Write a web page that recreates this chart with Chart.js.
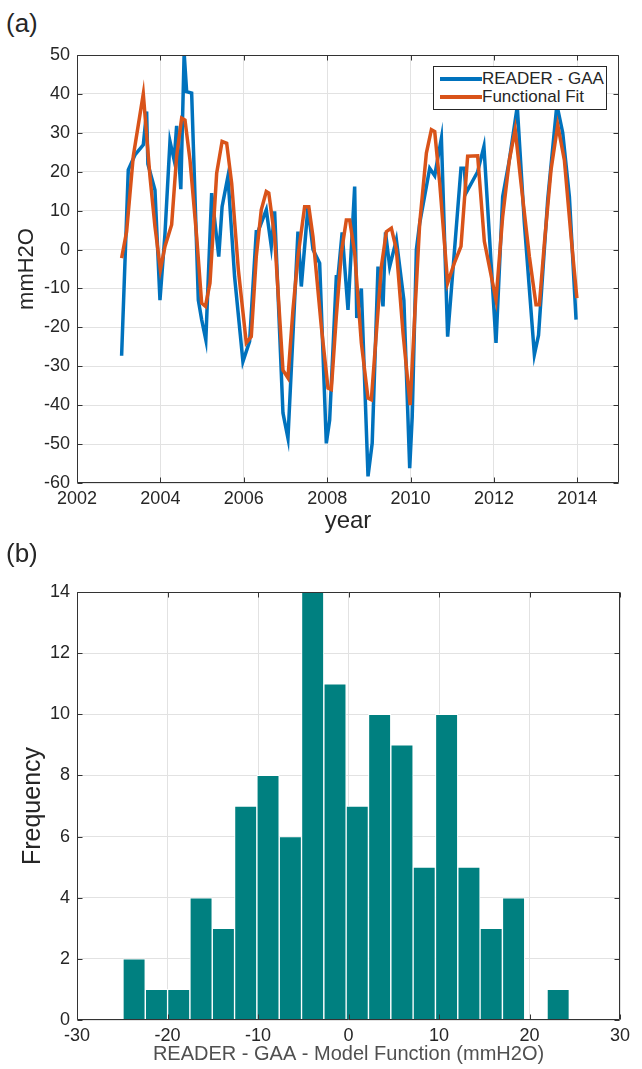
<!DOCTYPE html>
<html>
<head>
<meta charset="utf-8">
<script src="https://cdn.jsdelivr.net/npm/chart.js@4"></script>
<style>
  body { margin: 0; background: #fff; width: 642px; height: 1069px; position: relative; overflow: hidden;
         font-family: "Liberation Sans", Arial, sans-serif; color: #262626; }
  canvas { position: absolute; left: 0; }
  .panel-tag { position: absolute; left: 6px; font-size: 26px; line-height: 30px; }
  .legend { position: absolute; left: 433px; top: 66px; width: 172px; height: 42px; border: 1px solid #262626;
            background: #fff; font-size: 17px; }
  .legend .row { position: absolute; left: 0; height: 18px; line-height: 18px; white-space: nowrap; }
  .legend .swatch { position: absolute; left: 6px; top: 7px; width: 42px; height: 4px; }
  .legend .lbl { position: absolute; left: 48px; top: 0; }
</style>
</head>
<body>
<div class="panel-tag" style="top:8px">(a)</div>
<canvas id="seriesChart" width="642" height="540" style="top:0"></canvas>
<div class="legend">
  <div class="row" style="top:3px"><span class="swatch" style="background:#0072BD"></span><span class="lbl">READER - GAA</span></div>
  <div class="row" style="top:21px"><span class="swatch" style="background:#D95319"></span><span class="lbl">Functional Fit</span></div>
</div>
<div class="panel-tag" style="top:538px">(b)</div>
<canvas id="histChart" width="642" height="529" style="top:540px"></canvas>
<script>
// --- panel (a): READER - GAA vs functional fit ---
const gaaYears = [2003.07, 2003.23, 2003.39, 2003.59, 2003.67, 2003.70, 2003.87, 2003.99, 2004.11, 2004.23,
  2004.33, 2004.39, 2004.49, 2004.57, 2004.63, 2004.75, 2004.91, 2004.99, 2005.09, 2005.23,
  2005.40, 2005.48, 2005.62, 2005.78, 2005.98, 2006.14, 2006.30, 2006.34, 2006.54, 2006.66,
  2006.74, 2006.94, 2007.06, 2007.30, 2007.38, 2007.54, 2007.66, 2007.82, 2007.98, 2008.06,
  2008.22, 2008.26, 2008.36, 2008.50, 2008.66, 2008.71, 2008.82, 2008.98, 2009.08, 2009.22,
  2009.34, 2009.40, 2009.50, 2009.66, 2009.84, 2009.98, 2010.04, 2010.14, 2010.22, 2010.46,
  2010.58, 2010.74, 2010.89, 2011.21, 2011.29, 2011.33, 2011.61, 2011.76, 2012.05, 2012.21,
  2012.37, 2012.56, 2012.73, 2012.97, 2013.07, 2013.29, 2013.51, 2013.65, 2013.81, 2013.97];
const gaaValues = [-27.3, 20.5, 24.3, 26.9, 35.5, 22, 15.3, -13, 4, 27.8,
  23, 31.8, 15.5, 50.5, 40.6, 40.2, -13, -18, -23.2, 14.5,
  -1.8, 11, 18.8, -7, -28.8, -23.6, 4.6, 4.6, 10.2, 0.8,
  9.8, -42, -48.5, 4.6, -9.5, 11, 0, -3.5, -49.8, -43.8,
  -7, -7, 4.4, -15.5, 16.2, -17.6, -10, -58.3, -49.8, -4.4,
  -14.6, 4.4, -4.4, 2.5, -13, -56.2, -43, 0, 6.8, 20.9,
  19, 28.6, -22.4, 20.9, 20.9, 14.5, 20, 26.5, -24, 13.6,
  23, 36.8, 6.8, -27, -22, 12.8, 37.2, 30, 13.6, -18];

const fitYears = [2003.07, 2003.19, 2003.35, 2003.59, 2003.75, 2003.87, 2004.00, 2004.11, 2004.27, 2004.39,
  2004.51, 2004.59, 2004.71, 2004.87, 2004.99, 2005.08, 2005.19, 2005.35, 2005.48, 2005.59,
  2005.71, 2005.87, 2006.06, 2006.18, 2006.30, 2006.42, 2006.54, 2006.60, 2006.74, 2006.94,
  2007.06, 2007.18, 2007.30, 2007.46, 2007.56, 2007.66, 2007.86, 2008.02, 2008.10, 2008.22,
  2008.34, 2008.46, 2008.54, 2008.66, 2008.82, 2008.98, 2009.06, 2009.18, 2009.30, 2009.42,
  2009.54, 2009.66, 2009.82, 2009.99, 2010.10, 2010.22, 2010.38, 2010.50, 2010.58, 2010.70,
  2010.89, 2011.05, 2011.21, 2011.37, 2011.61, 2011.77, 2012.05, 2012.21, 2012.37, 2012.51,
  2012.65, 2012.85, 2013.01, 2013.09, 2013.21, 2013.37, 2013.53, 2013.69, 2013.85, 2013.99];
const fitValues = [-2.2, 4.6, 24, 40, 18.8, 5.9, -5.2, 0.8, 6.4, 24,
  33.8, 33.3, 23, 3.3, -13.8, -14.6, -8.6, 19.6, 27.8, 27.3,
  17, -5.2, -24, -22.4, -1.8, 10.2, 14.9, 14.5, 3.3, -31,
  -33, -15.5, -1.8, 11, 11, 3.3, -19.8, -35.6, -36, -17.2,
  -0.9, 7.6, 7.6, -0.9, -24, -38.2, -38.6, -21.5, -4.4, 4.6,
  5.5, 0, -21.5, -40, -17.2, 6.8, 24.8, 30.8, 30.3, 17,
  -8.6, -3.5, 0.8, 24, 24.1, 2.1, -13, 8.5, 23, 30.9,
  17, -1.8, -14.2, -14.2, 1.6, 20.5, 32, 23, 3.3, -12.5];

// --- panel (b): histogram of residuals ---
const binCenters = [-23.69, -21.22, -18.76, -16.29, -13.82, -11.36, -8.89, -6.42, -3.96, -1.49,
  0.97, 3.44, 5.91, 8.37, 10.84, 13.31, 15.77, 18.24, 20.70, 23.17];
const binCounts = [2, 1, 1, 4, 3, 7, 8, 6, 14, 11, 7, 10, 9, 5, 10, 5, 3, 4, 0, 1];

const yearTicks = [2002, 2004, 2006, 2008, 2010, 2012, 2014];

Chart.defaults.font.family = '"Liberation Sans", Arial, sans-serif';
Chart.defaults.color = '#262626';

const axisColor = '#333333';
const gridColor = '#e2e2e2';

// MATLAB style box with inward tick marks on all four sides
const matlabBox = {
    id: 'matlabBox',
    afterDraw(chart) {
        const { ctx, chartArea: a, scales } = chart;
        const L = Math.round(a.left) + 0.5, R = Math.round(a.right) - 0.5;
        const T = Math.round(a.top) + 0.5, B = Math.round(a.bottom) - 0.5;
        ctx.save();
        ctx.strokeStyle = axisColor;
        ctx.lineWidth = 1;
        ctx.beginPath();
        ctx.rect(L, T, R - L, B - T);
        scales.x.ticks.forEach(t => {
            const px = Math.round(scales.x.getPixelForValue(t.value)) + 0.5;
            ctx.moveTo(px, B); ctx.lineTo(px, B - 5);
            ctx.moveTo(px, T); ctx.lineTo(px, T + 5);
        });
        scales.y.ticks.forEach(t => {
            const py = Math.round(scales.y.getPixelForValue(t.value)) + 0.5;
            ctx.moveTo(L, py); ctx.lineTo(L + 5, py);
            ctx.moveTo(R, py); ctx.lineTo(R - 5, py);
        });
        ctx.stroke();
        ctx.restore();
    }
};

new Chart(document.getElementById('seriesChart'), {
    type: 'line',
    data: {
        datasets: [
            {
                label: 'READER - GAA',
                data: gaaYears.map((x, i) => ({ x, y: gaaValues[i] })),
                borderColor: '#0072BD',
                borderWidth: 3.5,
                pointRadius: 0,
                tension: 0,
                order: 2
            },
            {
                label: 'Functional Fit',
                data: fitYears.map((x, i) => ({ x, y: fitValues[i] })),
                borderColor: '#D95319',
                borderWidth: 3.5,
                pointRadius: 0,
                tension: 0,
                order: 1
            }
        ]
    },
    options: {
        responsive: false,
        animation: false,
        layout: { padding: { top: 55, right: 23, left: 0, bottom: 0 } },
        plugins: { legend: { display: false }, tooltip: { enabled: false } },
        scales: {
            x: {
                type: 'linear',
                min: 2002,
                max: 2015,
                afterBuildTicks: (s) => { s.ticks = yearTicks.map(v => ({ value: v })); },
                afterFit: (s) => { s.height = 57; },
                grid: { color: gridColor, drawTicks: false },
                border: { display: false },
                ticks: { font: { size: 18 }, padding: 5, callback: (v) => String(v), maxRotation: 0 },
                title: { display: true, text: 'year', font: { size: 24 }, padding: { top: 0, bottom: 4 } }
            },
            y: {
                min: -60,
                max: 50,
                afterFit: (s) => { s.width = 77; },
                grid: { color: gridColor, drawTicks: false },
                border: { display: false },
                ticks: { stepSize: 10, font: { size: 18 }, padding: 7 },
                title: { display: true, text: 'mmH2O', font: { size: 22 }, padding: { top: 14, bottom: 0 } }
            }
        }
    },
    plugins: [matlabBox]
});

new Chart(document.getElementById('histChart'), {
    type: 'bar',
    data: {
        datasets: [{
            label: 'Frequency',
            data: binCenters.map((x, i) => ({ x, y: binCounts[i] })),
            backgroundColor: '#008080',
            borderColor: '#ffffff',
            borderWidth: 1,
            barPercentage: 1,
            categoryPercentage: 1
        }]
    },
    options: {
        responsive: false,
        animation: false,
        layout: { padding: { top: 52, right: 22, left: 0, bottom: 0 } },
        plugins: { legend: { display: false }, tooltip: { enabled: false } },
        scales: {
            x: {
                type: 'linear',
                min: -30,
                max: 30,
                offset: false,
                afterFit: (s) => { s.height = 49; },
                grid: { color: gridColor, drawTicks: false, offset: false },
                border: { display: false },
                ticks: { stepSize: 10, font: { size: 18 }, padding: 5 },
                title: { display: true, text: 'READER - GAA - Model Function (mmH2O)', font: { size: 20 },
                         padding: { top: 0, bottom: 3 }, color: '#505050' }
            },
            y: {
                min: 0,
                max: 14,
                afterFit: (s) => { s.width = 77; },
                grid: { color: gridColor, drawTicks: false },
                border: { display: false },
                ticks: { stepSize: 2, font: { size: 18 }, padding: 7 },
                title: { display: true, text: 'Frequency', font: { size: 25 }, padding: { top: 18, bottom: 0 } }
            }
        }
    },
    plugins: [matlabBox]
});
</script>
</body>
</html>
